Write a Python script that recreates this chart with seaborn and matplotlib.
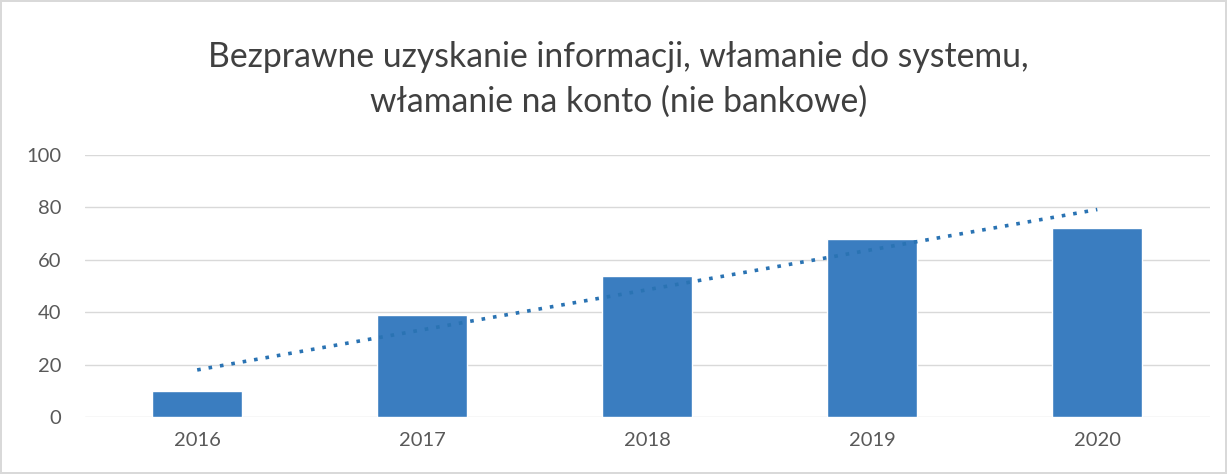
import numpy as np
import pandas as pd
import matplotlib
matplotlib.use("Agg")
import matplotlib.pyplot as plt
import seaborn as sns

years = ["2016", "2017", "2018", "2019", "2020"]
cases = [10, 39, 54, 68, 72]

title = "Bezprawne uzyskanie informacji, włamanie do systemu,\nwłamanie na konto (nie bankowe)"

df = pd.DataFrame({"rok": years, "liczba": cases})
df["pos"] = np.arange(len(years))

sns.set_theme(style="white")
plt.rcParams["font.family"] = ["Lato", "DejaVu Sans"]

fig = plt.figure(figsize=(12.27, 4.74), dpi=100)
fig.patch.set_edgecolor("#d9d9d9")
fig.patch.set_linewidth(1.5)
ax = fig.add_axes([0.069, 0.12, 0.917, 0.553])

sns.barplot(data=df, x="rok", y="liczba", color="#3a7dc0", width=0.4,
            saturation=1, ax=ax, zorder=2)
# linia trendu (liniowa)
sns.regplot(data=df, x="pos", y="liczba", scatter=False, ci=None, truncate=True,
            line_kws={"color": "#2a73b3", "linestyle": (0, (1, 2.2)),
                      "linewidth": 2.6, "zorder": 3}, ax=ax)

ax.set_xlim(-0.5, len(years) - 0.5)
ax.set_ylim(0, 100)
ax.set_yticks(range(0, 101, 20))
ax.yaxis.grid(True, color="#d9d9d9", linewidth=1)
ax.set_axisbelow(True)
ax.set_xlabel("")
ax.set_ylabel("")
ax.tick_params(axis="both", colors="#595959", labelsize=14.5, length=0)
ax.tick_params(axis="x", pad=11)
ax.tick_params(axis="y", pad=17)
sns.despine(ax=ax, left=True, right=True, top=True, bottom=True)

fig.text(0.504, 0.832, title, ha="center", va="center", fontsize=24.3,
         color="#404040", linespacing=1.5)

fig.savefig("out.png", dpi=100)
